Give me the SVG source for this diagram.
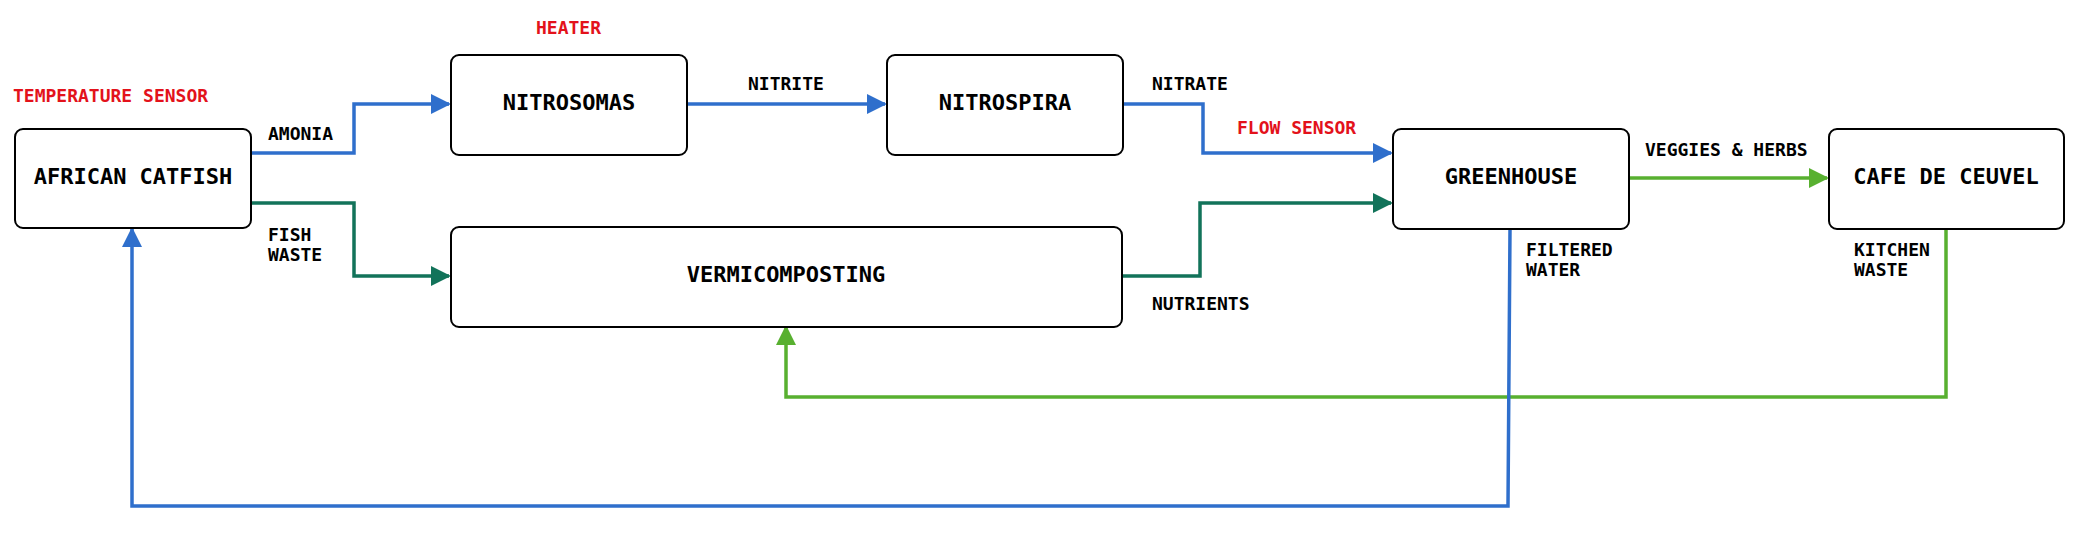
<svg xmlns="http://www.w3.org/2000/svg" width="2082" height="534" viewBox="0 0 2082 534">
<style>
.box{fill:#fff;stroke:#000;stroke-width:2}
.nt{font-family:"DejaVu Sans Mono","Liberation Mono",monospace;font-weight:bold;font-size:22px;fill:#000;text-anchor:middle}
.lb{font-family:"DejaVu Sans Mono","Liberation Mono",monospace;font-weight:bold;font-size:18px;fill:#000}
.rd{fill:#e3121b}
.c{fill:none;stroke-width:3.5}
.blue{stroke:#2f6fcc}
.teal{stroke:#12735a}
.lg{stroke:#58b030}
</style>
<defs>
<marker id="ab" markerUnits="userSpaceOnUse" markerWidth="20" markerHeight="20" refX="18" refY="10" orient="auto"><path d="M0,0 L20,10 L0,20 z" fill="#2f6fcc"/></marker>
<marker id="at" markerUnits="userSpaceOnUse" markerWidth="20" markerHeight="20" refX="18" refY="10" orient="auto"><path d="M0,0 L20,10 L0,20 z" fill="#12735a"/></marker>
<marker id="ag" markerUnits="userSpaceOnUse" markerWidth="20" markerHeight="20" refX="18" refY="10" orient="auto"><path d="M0,0 L20,10 L0,20 z" fill="#58b030"/></marker>
</defs>
<rect width="2082" height="534" fill="#fff"/>
<g id="connectors">
<path class="c blue" d="M251,153 H354 V104 H449" marker-end="url(#ab)"/>
<path class="c blue" d="M687,104 H885" marker-end="url(#ab)"/>
<path class="c blue" d="M1123,104 H1203 V153 H1391" marker-end="url(#ab)"/>
<path class="c teal" d="M251,203 H354 V276 H449" marker-end="url(#at)"/>
<path class="c teal" d="M1122,276 H1200 V203 H1391" marker-end="url(#at)"/>
<path class="c lg" d="M1629,178 H1827" marker-end="url(#ag)"/>
<path class="c lg" d="M1946,229 V397 H786 V327" marker-end="url(#ag)"/>
<path class="c blue" d="M1510,229 L1508,506 H132 V229" marker-end="url(#ab)"/>
</g>
<g id="labels">
<text class="lb rd" x="13" y="102">TEMPERATURE SENSOR</text>
<text class="lb rd" x="536" y="34">HEATER</text>
<text class="lb rd" x="1237" y="134">FLOW SENSOR</text>
<text class="lb" x="268" y="140">AMONIA</text>
<text class="lb" x="268" y="241">FISH</text>
<text class="lb" x="268" y="261">WASTE</text>
<text class="lb" x="748" y="90">NITRITE</text>
<text class="lb" x="1152" y="90">NITRATE</text>
<text class="lb" x="1152" y="310">NUTRIENTS</text>
<text class="lb" x="1645" y="156">VEGGIES &amp; HERBS</text>
<text class="lb" x="1526" y="256">FILTERED</text>
<text class="lb" x="1526" y="276">WATER</text>
<text class="lb" x="1854" y="256">KITCHEN</text>
<text class="lb" x="1854" y="276">WASTE</text>
</g>
<g id="african-catfish">
<rect class="box" x="15" y="129" width="236" height="99" rx="8"/>
<text class="nt" x="133" y="184">AFRICAN CATFISH</text>
</g>
<g id="nitrosomas">
<rect class="box" x="451" y="55" width="236" height="100" rx="8"/>
<text class="nt" x="569" y="110">NITROSOMAS</text>
</g>
<g id="nitrospira">
<rect class="box" x="887" y="55" width="236" height="100" rx="8"/>
<text class="nt" x="1005" y="110">NITROSPIRA</text>
</g>
<g id="vermicomposting">
<rect class="box" x="451" y="227" width="671" height="100" rx="8"/>
<text class="nt" x="786" y="282">VERMICOMPOSTING</text>
</g>
<g id="greenhouse">
<rect class="box" x="1393" y="129" width="236" height="100" rx="8"/>
<text class="nt" x="1511" y="184">GREENHOUSE</text>
</g>
<g id="cafe-de-ceuvel">
<rect class="box" x="1829" y="129" width="235" height="100" rx="8"/>
<text class="nt" x="1946" y="184">CAFE DE CEUVEL</text>
</g>
</svg>
